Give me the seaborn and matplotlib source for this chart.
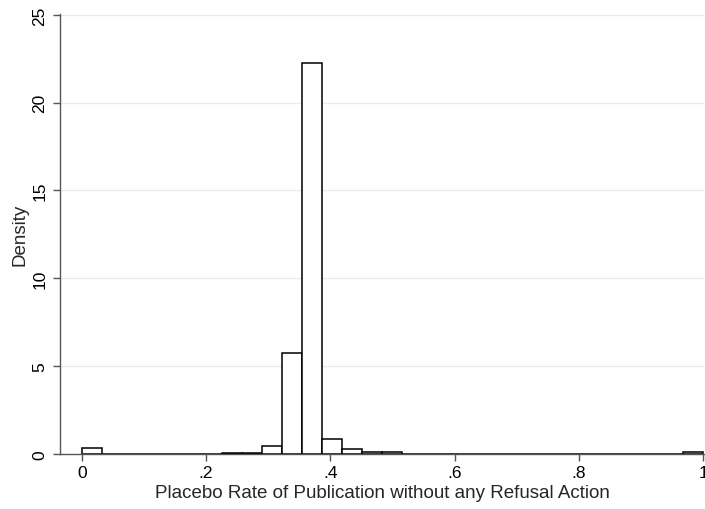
import numpy as np
import pandas as pd
import matplotlib
matplotlib.use("Agg")
import matplotlib.pyplot as plt
import seaborn as sns

# histogram: 31 bins between 0 and 1
n_bins = 31
bin_index = [0, 7, 8, 9, 10, 11, 12, 13, 14, 15, 30]
density = [0.30, 0.04, 0.05, 0.46, 5.75, 22.24, 0.84, 0.26, 0.10, 0.07, 0.10]
xticks = [0, 0.2, 0.4, 0.6, 0.8, 1.0]
xtick_labels = ["0", ".2", ".4", ".6", ".8", "1"]
yticks = [0, 5, 10, 15, 20, 25]

edges = np.linspace(0, 1, n_bins + 1)
width = edges[1] - edges[0]
df = pd.DataFrame({
    "rate": [edges[i] + width / 2 for i in bin_index],
    "density": density,
})

sns.set_theme(style="white")
plt.rcParams["font.family"] = ["Liberation Sans", "DejaVu Sans"]

fig = plt.figure(figsize=(7.05, 5.1), dpi=100)
ax = fig.add_axes([0.0851, 0.1084, 0.9135, 0.8622])

for y in yticks[1:]:
    ax.axhline(y, color="#e6eded", lw=1.0, zorder=0)

sns.histplot(data=df, x="rate", weights="density", bins=list(edges),
             stat="count", color="white", edgecolor="black", linewidth=1.1,
             alpha=1, ax=ax, zorder=2)

ax.set_xlim(-0.035, 1.0015)
ax.set_ylim(0, 25.05)
ax.set_xticks(xticks)
ax.set_xticklabels(xtick_labels)
ax.set_yticks(yticks)
ax.set_yticklabels([str(v) for v in yticks], rotation=90, va="center")
ax.tick_params(axis="both", direction="out", length=5, width=1,
               color="#555555", labelsize=12.5, labelcolor="black")
ax.tick_params(axis="x", bottom=True, pad=3)
ax.tick_params(axis="y", left=True, pad=4)

for side in ["top", "right"]:
    ax.spines[side].set_visible(False)
for side in ["left", "bottom"]:
    ax.spines[side].set_color("#555555")
    ax.spines[side].set_linewidth(1.0)

ax.set_xlabel("Placebo Rate of Publication without any Refusal Action",
              fontsize=13.5, labelpad=3)
ax.set_ylabel("Density", fontsize=13.5, labelpad=3)

fig.savefig("out.png", dpi=100)
